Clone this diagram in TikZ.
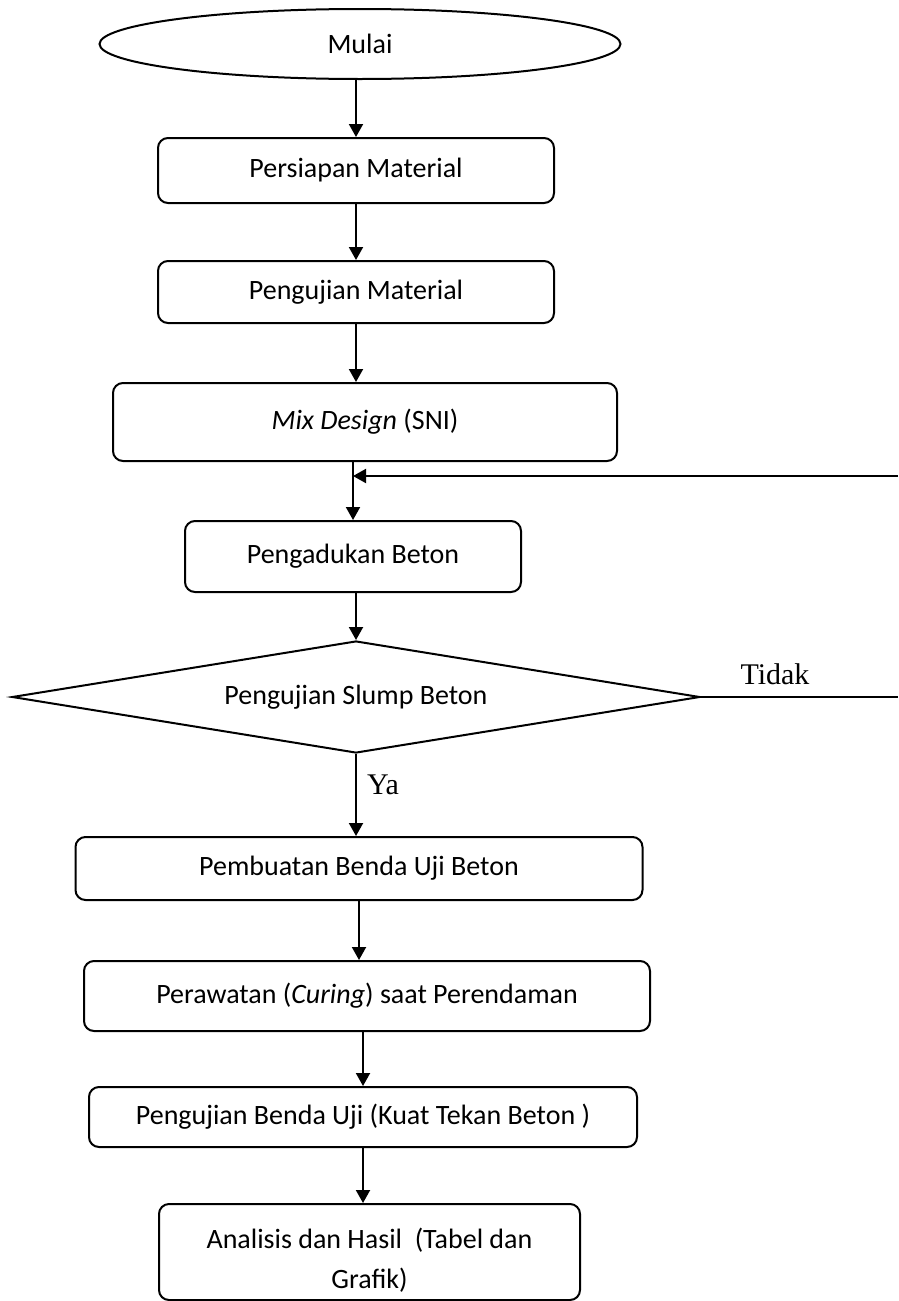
\documentclass[tikz,border=0pt]{standalone}
\usepackage{fontspec}
\setmainfont{Carlito}
\newfontfamily\serifLbl{Liberation Serif}
\usetikzlibrary{shapes.geometric,arrows.meta}
\begin{document}
\begin{tikzpicture}[x=1pt,y=-1pt,
  font=\fontsize{28}{40}\selectfont,
  line width=2pt,
  box/.style={draw, rounded corners=10pt, inner sep=0pt, align=center},
  arr/.style={-{Triangle[length=13pt,width=14pt]}},
  lbl/.style={font=\serifLbl\fontsize{30}{34}\selectfont, inner sep=0pt}]
\useasboundingbox (0,0) rectangle (898,1301);

\node[draw, ellipse, minimum width=521pt, minimum height=70pt, inner sep=0pt] (e) at (360,44) {Mulai};
\node[box, minimum width=396pt, minimum height=65pt] (b1) at (356,170.5) {Persiapan Material};
\node[box, minimum width=396pt, minimum height=62pt] (b2) at (356,292) {Pengujian Material};
\node[box, minimum width=504pt, minimum height=78pt] (b3) at (365,422) {\textit{Mix Design} (SNI)};
\node[box, minimum width=336pt, minimum height=71pt] (b4) at (353,556.5) {Pengadukan Beton};
\node[draw, diamond, aspect=6, minimum width=688pt, minimum height=112pt, inner sep=0pt] (d) at (356,697) {Pengujian Slump Beton};
\node[box, minimum width=567pt, minimum height=63pt] (b5) at (359,868.5) {Pembuatan Benda Uji Beton};
\node[box, minimum width=566pt, minimum height=70pt] (b6) at (367,996) {Perawatan (\textit{Curing}) saat Perendaman};
\node[box, minimum width=548pt, minimum height=60pt] (b7) at (363,1117) {Pengujian Benda Uji (Kuat Tekan Beton )};
\node[box, minimum width=421pt, minimum height=96pt] (b8) at (369.5,1252) {};
\node[align=center, inner sep=0pt] (b8t) at (369.5,1260) {Analisis dan Hasil\ \ (Tabel dan\\Grafik)};

\node[lbl] (tidak) at (775,674) {Tidak};
\node[lbl, anchor=west] (ya) at (366,785) {Ya};

\coordinate (fb) at (898,476);
\coordinate (te) at (898,697);

\draw[arr] (e.south -| b1.north) -- (b1.north);
\draw[arr] (b1.south) -- (b2.north);
\draw[arr] (b2.south) -- (b2.south |- b3.north);
\draw[arr] (b3.south -| b4.north) -- (b4.north);
\draw[arr] (fb) -- (fb -| b4.north);
\draw[arr] (b4.south -| d.north) -- (d.north);
\draw (d.east) -- (te);
\draw[arr] (d.south) -- (d.south |- b5.north);
\draw[arr] (b5.south) -- (b5.south |- b6.north);
\draw[arr] (b7.north |- b6.south) -- (b7.north);
\draw[arr] (b7.south) -- (b7.south |- b8.north);
\end{tikzpicture}
\end{document}
